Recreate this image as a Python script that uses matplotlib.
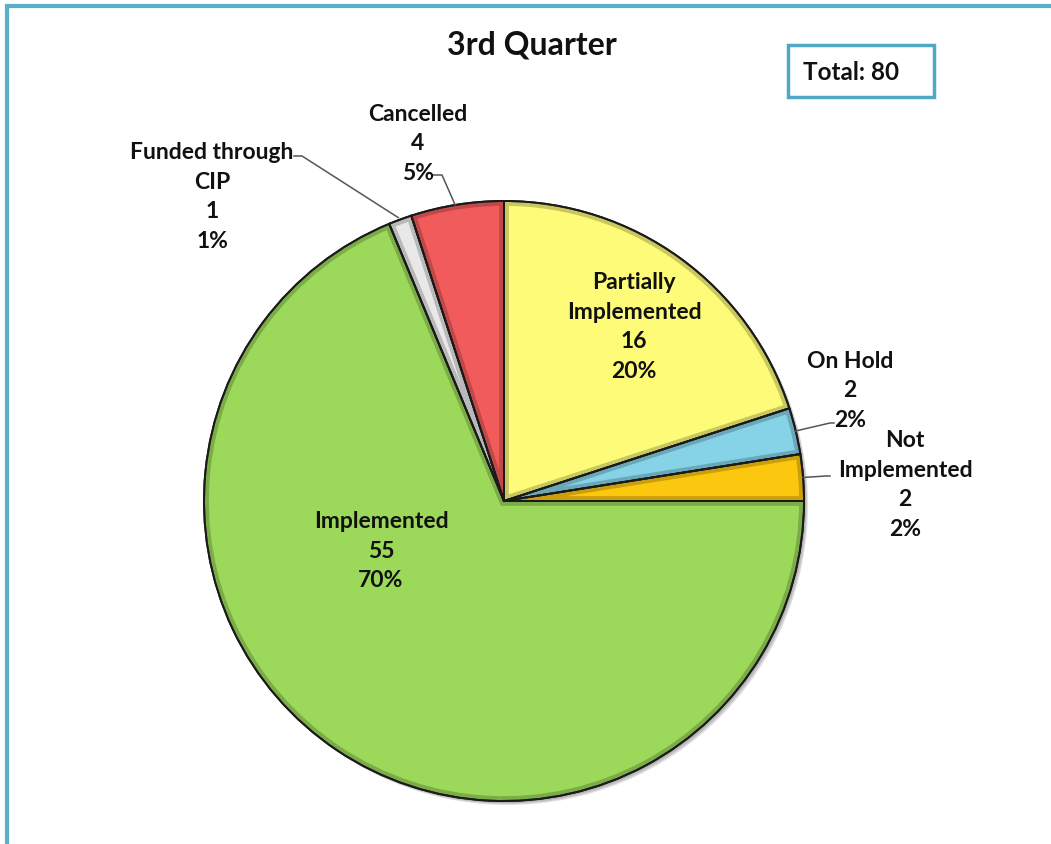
import matplotlib
matplotlib.use("Agg")
import matplotlib.pyplot as plt
import matplotlib.colors as mcolors
from matplotlib.patches import Rectangle, Wedge, Circle
import numpy as np

# Project status counts for the quarter
categories = ["Partially\nImplemented", "On Hold", "Not\nImplemented",
              "Implemented", "Funded through\nCIP", "Cancelled"]
counts = [16, 2, 2, 55, 1, 4]
percent_labels = ["20%", "2%", "2%", "70%", "1%", "5%"]
colors = ["#fdfb78", "#86d3e8", "#fcc80f", "#9cd95a", "#e8e8e8", "#f25b5b"]
title = "3rd Quarter"
total_label = "Total: %d" % sum(counts)

W, H = 1051, 845
fig = plt.figure(figsize=(W / 100, H / 100), dpi=100)
ax = fig.add_axes([0, 0, 1, 1])

FONT = "Lato"
cx, cy, R = 504, H - 502, 300

# soft drop shadow behind the pie
for k, a in enumerate([0.10, 0.10, 0.12]):
    ax.add_patch(Circle((cx + 2 + k, cy - 2 - k), R, facecolor="black",
                        edgecolor="none", alpha=a, zorder=1))

wedges, _ = ax.pie(counts, colors=colors, startangle=90, counterclock=False,
                   center=(cx, cy), radius=R, frame=True,
                   wedgeprops=dict(edgecolor="#1a1a1a", linewidth=1.4))
ax.set_xlim(0, W)
ax.set_ylim(0, H)
ax.axis("off")
ax.set_aspect("equal")

# bevel-like darker rim inside each slice
for w, c in zip(wedges, colors):
    w.set_zorder(3)
    dark = np.array(mcolors.to_rgb(c)) * 0.55
    rim = Wedge(w.center, w.r, w.theta1, w.theta2, facecolor="none",
                edgecolor=dark, linewidth=7, alpha=0.45, zorder=4)
    rim.set_clip_path(w)
    ax.add_patch(rim)
    ax.add_patch(Wedge(w.center, w.r, w.theta1, w.theta2, facecolor="none",
                       edgecolor="#1a1a1a", linewidth=1.4, zorder=5))

txt_kw = dict(fontsize=16.5, fontweight="bold", family=FONT, color="#111111",
              ha="center", va="center", linespacing=1.5, zorder=10)

def label_text(i):
    return "%s\n%d\n%s" % (categories[i], counts[i], percent_labels[i])

def edge_point(i):
    w = wedges[i]
    ang = np.deg2rad((w.theta1 + w.theta2) / 2)
    return cx + R * np.cos(ang), cy + R * np.sin(ang)

# labels inside slices
ax.text(634, H - 327, label_text(0), **txt_kw)
ax.text(381, H - 551, label_text(3), **txt_kw)

# labels outside with leader lines
outside = {
    1: dict(pos=(850, H - 391), start=(834, H - 424)),
    2: dict(pos=(905, H - 485), start=(830, H - 477)),
    4: dict(pos=(212, H - 197), start=(294, H - 157)),
    5: dict(pos=(418, H - 144), start=(432, H - 176)),
}
for i, spec in outside.items():
    ax.text(*spec["pos"], label_text(i), **txt_kw)
    ex, ey = edge_point(i)
    sx, sy = spec["start"]
    if i == 5:
        pts = [(sx, sy), (sx + 10, sy), (ex - 2, ey)]
    elif i == 4:
        pts = [(sx, sy), (sx + 8, sy), (ex - 2, ey + 2)]
    else:
        pts = [(sx, sy), (sx - 4, sy), (ex, ey)]
    xs, ys = zip(*pts)
    ax.plot(xs, ys, color="#555555", lw=1.1, zorder=9)

# title and total box
ax.text(532, H - 45, title, fontsize=23, fontweight="bold", family=FONT,
        color="#111111", ha="center", va="center", zorder=10)
ax.add_patch(Rectangle((788, H - 98), 146, 52, facecolor="white",
                       edgecolor="#4fa8c4", linewidth=2.5, zorder=10))
ax.text(803, H - 72, total_label, fontsize=17.5, fontweight="bold",
        family=FONT, color="#111111", ha="left", va="center", zorder=11)

# outer frame (top and left edges visible)
ax.add_patch(Rectangle((7, -20), W + 40, H - 7 + 20, facecolor="none",
                       edgecolor="#5ab0c9", linewidth=3, zorder=0))

fig.savefig("out.png", dpi=100)
